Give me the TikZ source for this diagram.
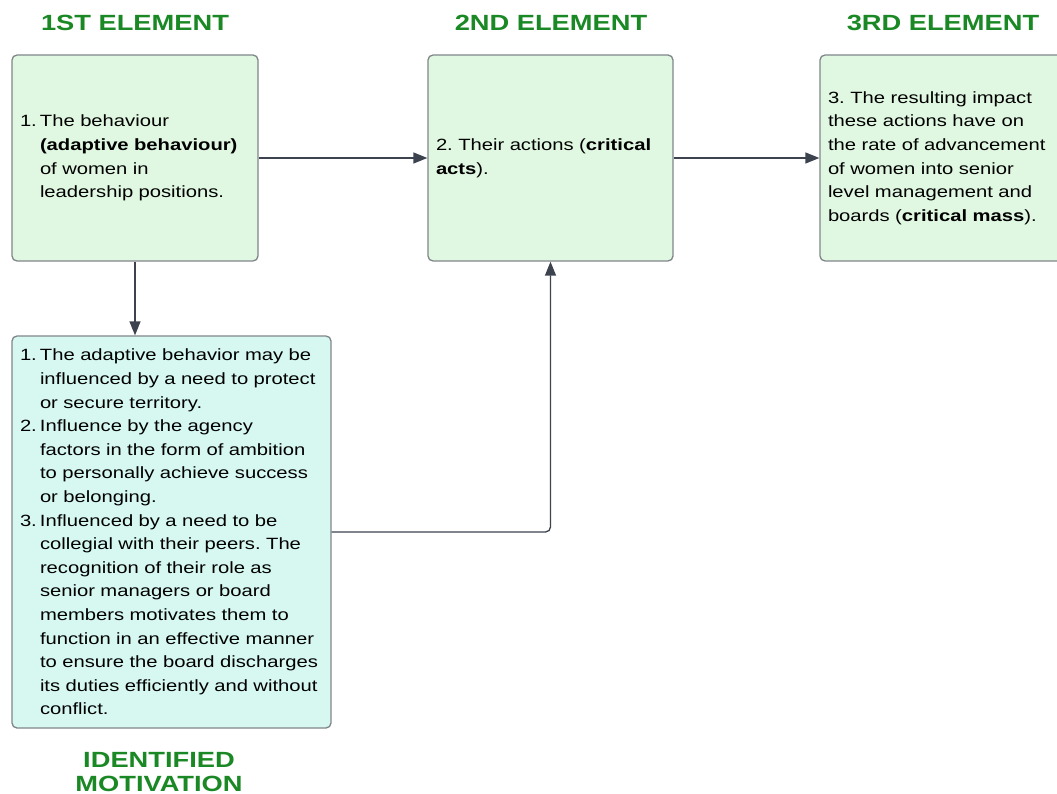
\documentclass[tikz,border=0pt]{standalone}
\usepackage{fontspec}
\setmainfont{Liberation Sans}[FakeStretch=1.24]
\usetikzlibrary{arrows.meta}
\frenchspacing
\definecolor{boxgreen}{RGB}{224,248,225}
\definecolor{boxcyan}{RGB}{214,248,241}
\definecolor{edgegray}{RGB}{128,133,138}
\definecolor{linkgray}{RGB}{60,66,78}
\definecolor{headgreen}{RGB}{26,136,36}
% numbered entry with a hanging indent; lines are broken with \break
\newcommand\listitem[1]{\hangindent=20pt\hangafter=1\noindent\makebox[20pt][l]{#1}}
\tikzset{
  card/.style={draw=edgegray, line width=1.3pt, rounded corners=5pt,
    inner xsep=8pt, inner ysep=0pt, align=left, anchor=center,
    font=\fontsize{16.3}{23.6}\selectfont},
  greencard/.style={card, fill=boxgreen},
  cyancard/.style={card, fill=boxcyan},
  heading/.style={text=headgreen, font=\fontsize{22}{24}\selectfont\bfseries, align=center},
  link/.style={draw=linkgray, line width=1.3pt, -{Triangle[length=14pt,width=11pt]}}
}
\begin{document}
\begin{tikzpicture}[x=1pt,y=-1pt]
\useasboundingbox (0,0) rectangle (1057,794);

% headings
\node[heading] (h1) at (135,23) {1ST ELEMENT};
\node[heading] (h2) at (551,23) {2ND ELEMENT};
\node[heading] (h3) at (943,23) {3RD ELEMENT};
\node[heading] (h4) at (159,772) {IDENTIFIED\\MOTIVATION};

% element boxes
\node[greencard, minimum width=246pt, minimum height=206pt, text width=230pt] (b1) at (135,158)
  {\listitem{1.}The behaviour\break
   \textbf{(adaptive behaviour)}\break
   of women in\break
   leadership positions.\par};

\node[greencard, minimum width=245pt, minimum height=206pt, text width=229pt] (b2) at (550.5,158)
  {2. Their actions (\textbf{critical}\\
   \textbf{acts}).};

\node[greencard, minimum width=250pt, minimum height=206pt, text width=234pt] (b3) at (945,158)
  {3. The resulting impact\\
   these actions have on\\
   the rate of advancement\\
   of women into senior\\
   level management and\\
   boards (\textbf{critical mass}).};

\node[cyancard, minimum width=319pt, minimum height=392pt, text width=303pt] (b4) at (171.5,532)
  {\listitem{1.}The adaptive behavior may be\break
   influenced by a need to protect\break
   or secure territory.\par
   \listitem{2.}Influence by the agency\break
   factors in the form of ambition\break
   to personally achieve success\break
   or belonging.\par
   \listitem{3.}Influenced by a need to be\break
   collegial with their peers. The\break
   recognition of their role as\break
   senior managers or board\break
   members motivates them to\break
   function in an effective manner\break
   to ensure the board discharges\break
   its duties efficiently and without\break
   conflict.\par};

% connectors
\draw[link] (b1.east) -- (b2.west);
\draw[link] (b2.east) -- (b3.west);
\draw[link] (b1.south) -- (b1.south |- b4.north);
\draw[link, rounded corners=5pt] (b4.east) -| (b2.south);
\end{tikzpicture}
\end{document}
